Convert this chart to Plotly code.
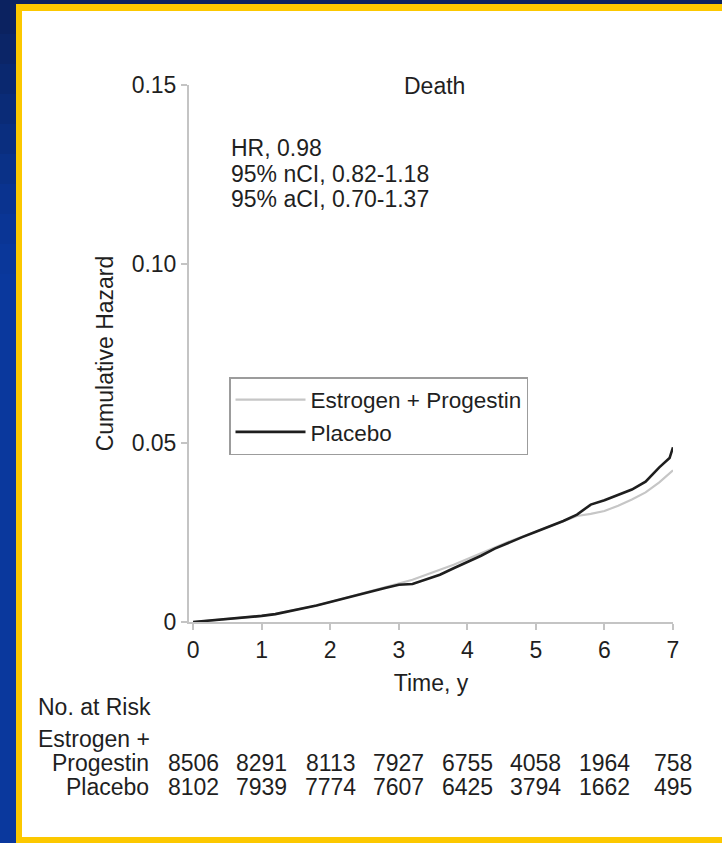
import plotly.graph_objects as go

# Cumulative hazard of death by study year (read at 0.2-year steps)
time_ep = [0.0, 0.2, 0.4, 0.6, 0.8, 1.0, 1.2, 1.4, 1.6, 1.8, 2.0, 2.2, 2.4, 2.6, 2.8,
           3.0, 3.2, 3.4, 3.6, 3.8, 4.0, 4.2, 4.4, 4.6, 4.8, 5.0, 5.2, 5.4, 5.6, 5.8,
           6.0, 6.2, 6.4, 6.6, 6.8, 7.0]
hazard_ep = [0.0000, 0.0003, 0.0006, 0.0009, 0.0012, 0.0017, 0.0023, 0.0030, 0.0038, 0.0046,
             0.0056, 0.0066, 0.0076, 0.0086, 0.0096, 0.0108, 0.0118, 0.0132, 0.0145, 0.0160,
             0.0176, 0.0192, 0.0210, 0.0224, 0.0238, 0.0252, 0.0266, 0.0280, 0.0296, 0.0302,
             0.0310, 0.0325, 0.0342, 0.0362, 0.0390, 0.0424]

time_pl = [0.0, 0.2, 0.4, 0.6, 0.8, 1.0, 1.2, 1.4, 1.6, 1.8, 2.0, 2.2, 2.4, 2.6, 2.8,
           3.0, 3.2, 3.4, 3.6, 3.8, 4.0, 4.2, 4.4, 4.6, 4.8, 5.0, 5.2, 5.4, 5.6, 5.8,
           6.0, 6.2, 6.4, 6.6, 6.8, 6.95, 7.0]
hazard_pl = [0.0000, 0.0003, 0.0006, 0.0009, 0.0012, 0.0017, 0.0022, 0.0030, 0.0037, 0.0046,
             0.0056, 0.0065, 0.0075, 0.0085, 0.0095, 0.0104, 0.0106, 0.0118, 0.0132, 0.0150,
             0.0167, 0.0185, 0.0205, 0.0222, 0.0237, 0.0252, 0.0266, 0.0282, 0.0300, 0.0328,
             0.0340, 0.0355, 0.0370, 0.0392, 0.0432, 0.0458, 0.0488]

# Number at risk at the start of each year
risk_years = [0, 1, 2, 3, 4, 5, 6, 7]
risk_ep = [8506, 8291, 8113, 7927, 6755, 4058, 1964, 758]
risk_pl = [8102, 7939, 7774, 7607, 6425, 3794, 1662, 495]

y_ticks = [0, 0.05, 0.10, 0.15]
y_tick_text = ["0", "0.05", "0.10", "0.15"]

stats_lines = ["HR, 0.98", "95% nCI, 0.82-1.18", "95% aCI, 0.70-1.37"]

W, H = 722, 843
ML, MR, MT, MB = 189, 49, 85, 221
FONT = "Liberation Sans, Arial, Helvetica, sans-serif"
FS = 23
TXT = "#1f1f1f"
AXC = "#c4c4c4"


def fx(px):
    return (px - ML) / (W - ML - MR)


def fy(py):
    return (H - MB - py) / (H - MT - MB)


def label(text, px, py, anchor="left", xref="paper"):
    x = fx(px) if xref == "paper" else px
    return dict(text=text, x=x, y=fy(py), xref=xref, yref="paper",
                xanchor=anchor, yanchor="middle", showarrow=False,
                font=dict(size=FS, color=TXT, family=FONT))


fig = go.Figure()
fig.add_trace(go.Scatter(x=time_ep, y=hazard_ep, mode="lines",
                         name="Estrogen + Progestin",
                         line=dict(color="#c6c6c6", width=2.2), cliponaxis=False))
fig.add_trace(go.Scatter(x=time_pl, y=hazard_pl, mode="lines",
                         name="Placebo",
                         line=dict(color="#1e1e1e", width=2.6), cliponaxis=False))

# Frame: navy/blue backdrop, yellow rule, white panel
shapes = []
band_cols = ["#0b2260", "#0b2567", "#0a286f", "#0a2b77", "#0a2e7f", "#0a3187",
             "#0a338f", "#0a3595", "#0a379a", "#0a389d"]
for i, c in enumerate(band_cols):
    top = 4 + i * 30
    bottom = H if i == len(band_cols) - 1 else top + 30
    shapes.append(dict(type="rect", xref="paper", yref="paper", layer="below",
                       x0=fx(0), x1=fx(16), y0=fy(bottom), y1=fy(top),
                       fillcolor=c, line=dict(width=0)))
shapes.append(dict(type="rect", xref="paper", yref="paper", layer="below",
                   x0=fx(16), x1=fx(W), y0=fy(H), y1=fy(4),
                   fillcolor="#fcc800", line=dict(width=0)))
shapes.append(dict(type="rect", xref="paper", yref="paper", layer="below",
                   x0=fx(22), x1=fx(W), y0=fy(837), y1=fy(11),
                   fillcolor="#ffffff", line=dict(width=0)))

annotations = [label("Death", 434, 86, "center")]
for i, s in enumerate(stats_lines):
    annotations.append(label(s, 229, 148 + i * 25.5))

# Number-at-risk table
annotations.append(label("No. at Risk", 36, 707))
annotations.append(label("Estrogen +", 36, 739))
annotations.append(label("Progestin", 151, 763, "right"))
annotations.append(label("Placebo", 151, 787, "right"))
for yr, a, b in zip(risk_years, risk_ep, risk_pl):
    annotations.append(label(str(a), yr, 763, "center", xref="x"))
    annotations.append(label(str(b), yr, 787, "center", xref="x"))

fig.update_layout(
    width=W, height=H,
    margin=dict(l=ML, r=MR, t=MT, b=MB, autoexpand=False),
    paper_bgcolor="#0b2260",
    plot_bgcolor="rgba(0,0,0,0)",
    font=dict(family=FONT, size=FS, color=TXT),
    shapes=shapes,
    annotations=annotations,
    showlegend=True,
    legend=dict(x=fx(229), y=fy(377), xanchor="left", yanchor="top",
                bgcolor="#ffffff", bordercolor="#9c9c9c", borderwidth=1.5,
                font=dict(size=22.5, color=TXT, family=FONT),
                itemwidth=70, tracegroupgap=0),
    xaxis=dict(range=[-0.06, 7.0], tickvals=risk_years, showgrid=False, zeroline=False,
               showline=True, linecolor=AXC, linewidth=2,
               ticks="outside", ticklen=6, tickwidth=1.5, tickcolor=AXC,
               tickfont=dict(size=FS, color=TXT, family=FONT),
               title=dict(text="Time, y", standoff=13,
                          font=dict(size=FS, color=TXT, family=FONT))),
    yaxis=dict(range=[0, 0.15], tickvals=y_ticks, ticktext=y_tick_text, showgrid=False,
               zeroline=False, showline=True, linecolor=AXC, linewidth=2,
               ticks="outside", ticklen=6, tickwidth=1.5, tickcolor=AXC,
               tickfont=dict(size=FS, color=TXT, family=FONT),
               title=dict(text="Cumulative Hazard", standoff=12,
                          font=dict(size=FS, color=TXT, family=FONT))),
)

fig.write_html("out.html")
